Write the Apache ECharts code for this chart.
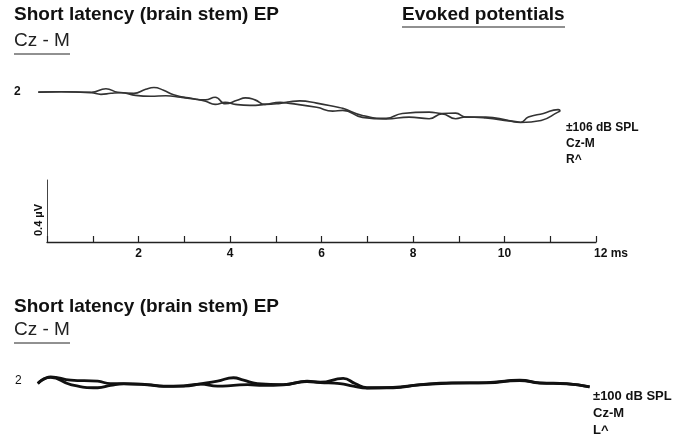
<!DOCTYPE html>
<html>
<head>
<meta charset="utf-8">
<script src="https://cdn.jsdelivr.net/npm/echarts@6/dist/echarts.min.js"></script>
<style>html,body{margin:0;padding:0;background:#fff}#c{width:673px;height:444px}</style>
</head>
<body>
<div id="c"></div>
<script>
// ---- Data (time in ms, amplitude in µV) ----
// Top panel: right ear, ±106 dB SPL, two superimposed runs
const topT1 = [-0.20,0.30,0.96,1.28,1.54,1.89,2.15,2.33,2.54,2.76,3.13,3.46,3.67,3.89,4.15,4.33,4.54,4.76,5.09,5.30,5.52,5.89,6.33,6.46,6.89,7.41,7.76,8.35,8.63,8.93,9.15,9.59,10.09,10.35,10.52,10.85,11.17,11.22];
const topV1 = [-0.005,-0.003,-0.007,0.017,-0.007,-0.014,0.014,0.026,0.007,-0.024,-0.048,-0.059,-0.041,-0.086,-0.062,-0.045,-0.059,-0.090,-0.083,-0.072,-0.066,-0.081,-0.108,-0.117,-0.166,-0.186,-0.152,-0.143,-0.152,-0.150,-0.177,-0.177,-0.200,-0.212,-0.177,-0.152,-0.126,-0.134];
const topT2 = [-0.20,0.30,0.96,1.17,1.39,1.61,1.93,2.26,2.59,2.91,3.24,3.46,3.67,3.89,4.11,4.43,4.76,5.09,5.30,5.89,6.24,6.46,6.89,7.41,7.91,8.35,8.63,8.93,9.15,9.59,10.09,10.35,10.80,11.17,11.22];
const topV2 = [-0.007,-0.003,-0.010,-0.021,-0.014,-0.010,-0.028,-0.034,-0.031,-0.041,-0.055,-0.069,-0.090,-0.076,-0.090,-0.097,-0.090,-0.076,-0.083,-0.110,-0.136,-0.131,-0.179,-0.190,-0.177,-0.188,-0.155,-0.188,-0.176,-0.183,-0.203,-0.214,-0.200,-0.143,-0.136];
// Bottom panel: left ear, ±100 dB SPL, two superimposed runs
const botT1 = [-0.21,0.07,0.51,1.10,1.38,1.67,2.19,2.54,2.98,3.35,3.72,4.07,4.29,4.59,5.16,5.68,5.97,6.47,6.73,6.99,7.56,8.15,8.87,9.61,10.33,10.77,11.36,11.86];
const botV1 = [-0.021,0.025,0.002,-0.005,-0.021,-0.021,-0.028,-0.039,-0.039,-0.023,-0.005,0.019,0.002,-0.021,-0.028,-0.005,-0.012,0.014,-0.021,-0.050,-0.050,-0.028,-0.016,-0.016,0.002,-0.016,-0.021,-0.044];
const botT2 = [-0.21,0.07,0.51,1.10,1.38,1.67,2.19,2.54,2.98,3.35,3.72,4.07,4.38,4.72,5.16,5.68,5.97,6.40,6.69,6.99,7.56,8.15,8.87,9.61,10.33,10.77,11.36,11.86];
const botV2 = [-0.021,0.022,-0.028,-0.050,-0.034,-0.023,-0.030,-0.041,-0.037,-0.025,-0.039,-0.034,-0.028,-0.034,-0.030,-0.008,-0.014,-0.021,-0.039,-0.052,-0.048,-0.030,-0.018,-0.014,0.000,-0.018,-0.023,-0.044];
// Time scale
const timeTicks = [0,1,2,3,4,5,6,7,8,9,10,11,12];
const tickLabels = ['', '', '2', '', '4', '', '6', '', '8', '', '10', '', '12 ms'];

const zip = (t, v) => t.map((x, i) => [x, v[i]]);
const FONT = 'Liberation Sans';

const chart = echarts.init(document.getElementById('c'), null, {renderer: 'canvas'});

const hiddenX = (idx) => ({gridIndex: idx, type: 'value', min: -0.25, max: 12, show: false});
const hiddenY = (idx, mn, mx) => ({gridIndex: idx, type: 'value', min: mn, max: mx, show: false});

const option = {
  backgroundColor: '#fff',
  animation: false,
  grid: [
    {left: 36, right: 77, top: 84, height: 51},
    {left: 47, right: 77, top: 180, height: 62},
    {left: 36, right: 77, top: 366, height: 29}
  ],
  xAxis: [
    hiddenX(0),
    {
      gridIndex: 1, type: 'value', min: 0, max: 12, interval: 1,
      axisLine: {show: true, lineStyle: {color: '#222', width: 1.3}},
      axisTick: {show: true, inside: true, length: 6, lineStyle: {color: '#222', width: 1.2}},
      splitLine: {show: false},
      axisLabel: {
        show: true, margin: 6, color: '#111', fontFamily: FONT, fontWeight: 'bold', fontSize: 12,
        formatter: (v) => {
          const s = tickLabels[timeTicks.indexOf(Math.round(v))] || '';
          return s.indexOf('ms') >= 0 ? '{u|' + s + '}' : s;
        },
        rich: {u: {fontFamily: FONT, fontWeight: 'bold', fontSize: 12, color: '#111', padding: [0, 0, 0, 30]}}
      }
    },
    hiddenX(2)
  ],
  yAxis: [
    hiddenY(0, -0.3, 0.05),
    {
      gridIndex: 1, type: 'value', min: 0, max: 0.4,
      axisLine: {show: true, lineStyle: {color: '#444', width: 1}},
      axisTick: {show: false}, axisLabel: {show: false}, splitLine: {show: false}
    },
    hiddenY(2, -0.1, 0.1)
  ],
  series: [
    {type: 'line', xAxisIndex: 0, yAxisIndex: 0, data: zip(topT1, topV1), smooth: 0.5, symbol: 'none',
     lineStyle: {color: '#333', width: 1.6}},
    {type: 'line', xAxisIndex: 0, yAxisIndex: 0, data: zip(topT2, topV2), smooth: 0.5, symbol: 'none',
     lineStyle: {color: '#333', width: 1.6}},
    {type: 'line', xAxisIndex: 1, yAxisIndex: 1, data: [], symbol: 'none'},
    {type: 'line', xAxisIndex: 2, yAxisIndex: 2, data: zip(botT1, botV1), smooth: 0.5, symbol: 'none',
     lineStyle: {color: '#111', width: 2.8}},
    {type: 'line', xAxisIndex: 2, yAxisIndex: 2, data: zip(botT2, botV2), smooth: 0.5, symbol: 'none',
     lineStyle: {color: '#111', width: 2.8}}
  ],
  graphic: [
    // headings
    {type: 'text', left: 14, top: 5, style: {text: 'Short latency (brain stem) EP', font: 'bold 19px "Liberation Sans"', fill: '#111'}},
    {type: 'text', left: 402, top: 5, style: {text: 'Evoked potentials', font: 'bold 19px "Liberation Sans"', fill: '#111'}},
    {type: 'line', shape: {x1: 402, y1: 27, x2: 565, y2: 27}, style: {stroke: '#222', lineWidth: 1.2}},
    {type: 'text', left: 14, top: 31, style: {text: 'Cz - M', font: '19px "Liberation Sans"', fill: '#222'}},
    {type: 'line', shape: {x1: 14, y1: 54, x2: 70, y2: 54}, style: {stroke: '#222', lineWidth: 1}},
    {type: 'text', left: 14, top: 86, style: {text: '2', font: 'bold 12px "Liberation Sans"', fill: '#111'}},
    {type: 'text', left: 566, top: 120, style: {text: '±106 dB SPL\nCz-M\nR^', font: '600 12px "Liberation Sans"', lineHeight: 16, fill: '#111'}},
    {type: 'text', x: 39, y: 220, rotation: Math.PI / 2, style: {text: '0.4 µV', font: 'bold 11px "Liberation Sans"', fill: '#111', align: 'center', verticalAlign: 'middle'}},
    // bottom panel
    {type: 'text', left: 14, top: 297, style: {text: 'Short latency (brain stem) EP', font: 'bold 19px "Liberation Sans"', fill: '#111'}},
    {type: 'text', left: 14, top: 320, style: {text: 'Cz - M', font: '19px "Liberation Sans"', fill: '#222'}},
    {type: 'line', shape: {x1: 14, y1: 343, x2: 70, y2: 343}, style: {stroke: '#222', lineWidth: 1}},
    {type: 'text', left: 15, top: 375, style: {text: '2', font: '12px "Liberation Sans"', fill: '#111'}},
    {type: 'text', left: 593, top: 388, style: {text: '±100 dB SPL\nCz-M\nL^', font: 'bold 13px "Liberation Sans"', lineHeight: 17, fill: '#111'}}
  ]
};
chart.setOption(option);
</script>
</body>
</html>
